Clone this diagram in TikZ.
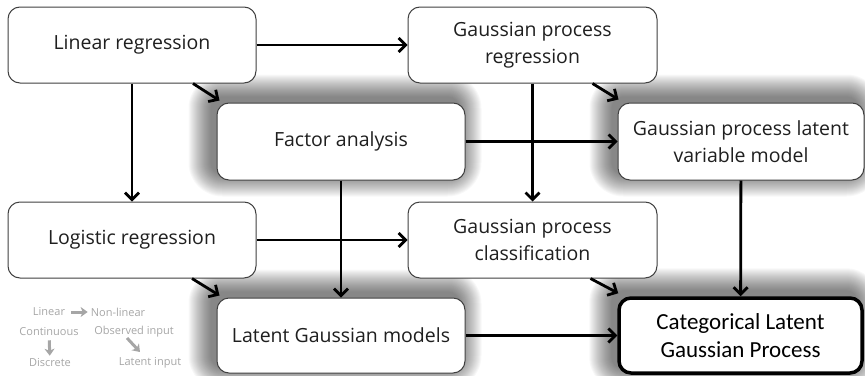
\documentclass[tikz,border=0pt]{standalone}
\usepackage{fontspec}
\setmainfont{Open Sans}
\newfontfamily\calib{Carlito}
\usetikzlibrary{arrows.meta,backgrounds,calc}
\begin{document}
\begin{tikzpicture}[x=1pt,y=-1pt,
  box/.style={draw=black!75, line width=1pt, rounded corners=12pt, fill=white,
    minimum width=248pt, minimum height=76pt, inner sep=0pt, align=center,
    font=\fontsize{19.5}{27}\selectfont, text=black!88},
  finalbox/.style={box, draw=black, line width=3.5pt, minimum width=243pt, minimum height=75pt,
    font=\calib\fontsize{23}{28}\selectfont, text=black},
  arr/.style={line width=2.8pt, black, -{Straight Barb[length=7pt,width=14pt]}},
  leg/.style={text=black!35, font=\fontsize{11}{13}\selectfont, inner sep=0pt},
  legarr/.style={draw=black!35, line width=3pt, -{Stealth[length=7pt,width=10pt,inset=2pt]}}
]
\useasboundingbox (0,0) rectangle (865,375);

% boxes
\node[box] (lr) at (132,45) {Linear regression};
\node[box, minimum width=249pt] (gpr) at (532.5,45) {Gaussian process\\regression};
\node[box, minimum height=77pt] (fa) at (341,141.5) {Factor analysis};
\node[box, minimum height=77pt, minimum width=246pt] (gplvm) at (741,141.5) {Gaussian process latent\\variable model};
\node[box] (log) at (132,240) {Logistic regression};
\node[box, minimum width=249pt] (gpc) at (532.5,240) {Gaussian process\\classification};
\node[box, minimum height=75pt] (lgm) at (341,335.5) {Latent Gaussian models};
\node[finalbox] (clgp) at (740.5,335.5) {Categorical Latent\\Gaussian Process};

% shadows
\begin{scope}[on background layer]
\foreach \n in {fa,lgm,gplvm,clgp}{
  \foreach \i in {0,...,22}{
    \pgfmathsetmacro\rr{12+\i}
    \fill[black, opacity=0.028, rounded corners=\rr pt]
      ([shift={(-6-\i,-6-\i)}]\n.north west) rectangle ([shift={(-6+\i,-6+\i)}]\n.south east);
  }
}
\end{scope}

% connectors
\draw[arr] (lr) -- (gpr);
\draw[arr] ([xshift=61pt]lr.south) -- ([shift={(3,-2)}]fa.north west);
\draw[arr] (lr) -- (log);
\draw[arr] ([xshift=60pt]gpr.south) -- ([shift={(1,-3)}]gplvm.north west);
\draw[arr] (gpr) -- (gpc);
\draw[arr] (fa) -- (gplvm);
\draw[arr] (fa) -- (lgm);
\draw[arr] (log) -- (gpc);
\draw[arr] ([xshift=60pt]log.south) -- ([shift={(3,-2)}]lgm.north west);
\draw[arr] ([xshift=58pt]gpc.south) -- ([shift={(1,-3)}]clgp.north west);
\draw[arr] (gplvm) -- (clgp);
\draw[arr] (lgm) -- (clgp);

% legend
\node[leg] (lin) at (49,312) {Linear};
\node[leg] (nonlin) at (118,312) {Non-linear};
\node[leg] (cont) at (49,332) {Continuous};
\node[leg] (obs) at (134,332) {Observed input};
\node[leg] (disc) at (50,363) {Discrete};
\node[leg] (lat) at (150,363) {Latent input};
\coordinate (d1) at (127,338);
\coordinate (d2) at (140,352);
\draw[legarr, shorten <=6pt, shorten >=3pt] (lin) -- (nonlin);
\draw[legarr, shorten <=4pt, shorten >=3pt] (cont) -- (disc);
\draw[legarr] (d1) -- (d2);
\end{tikzpicture}
\end{document}
